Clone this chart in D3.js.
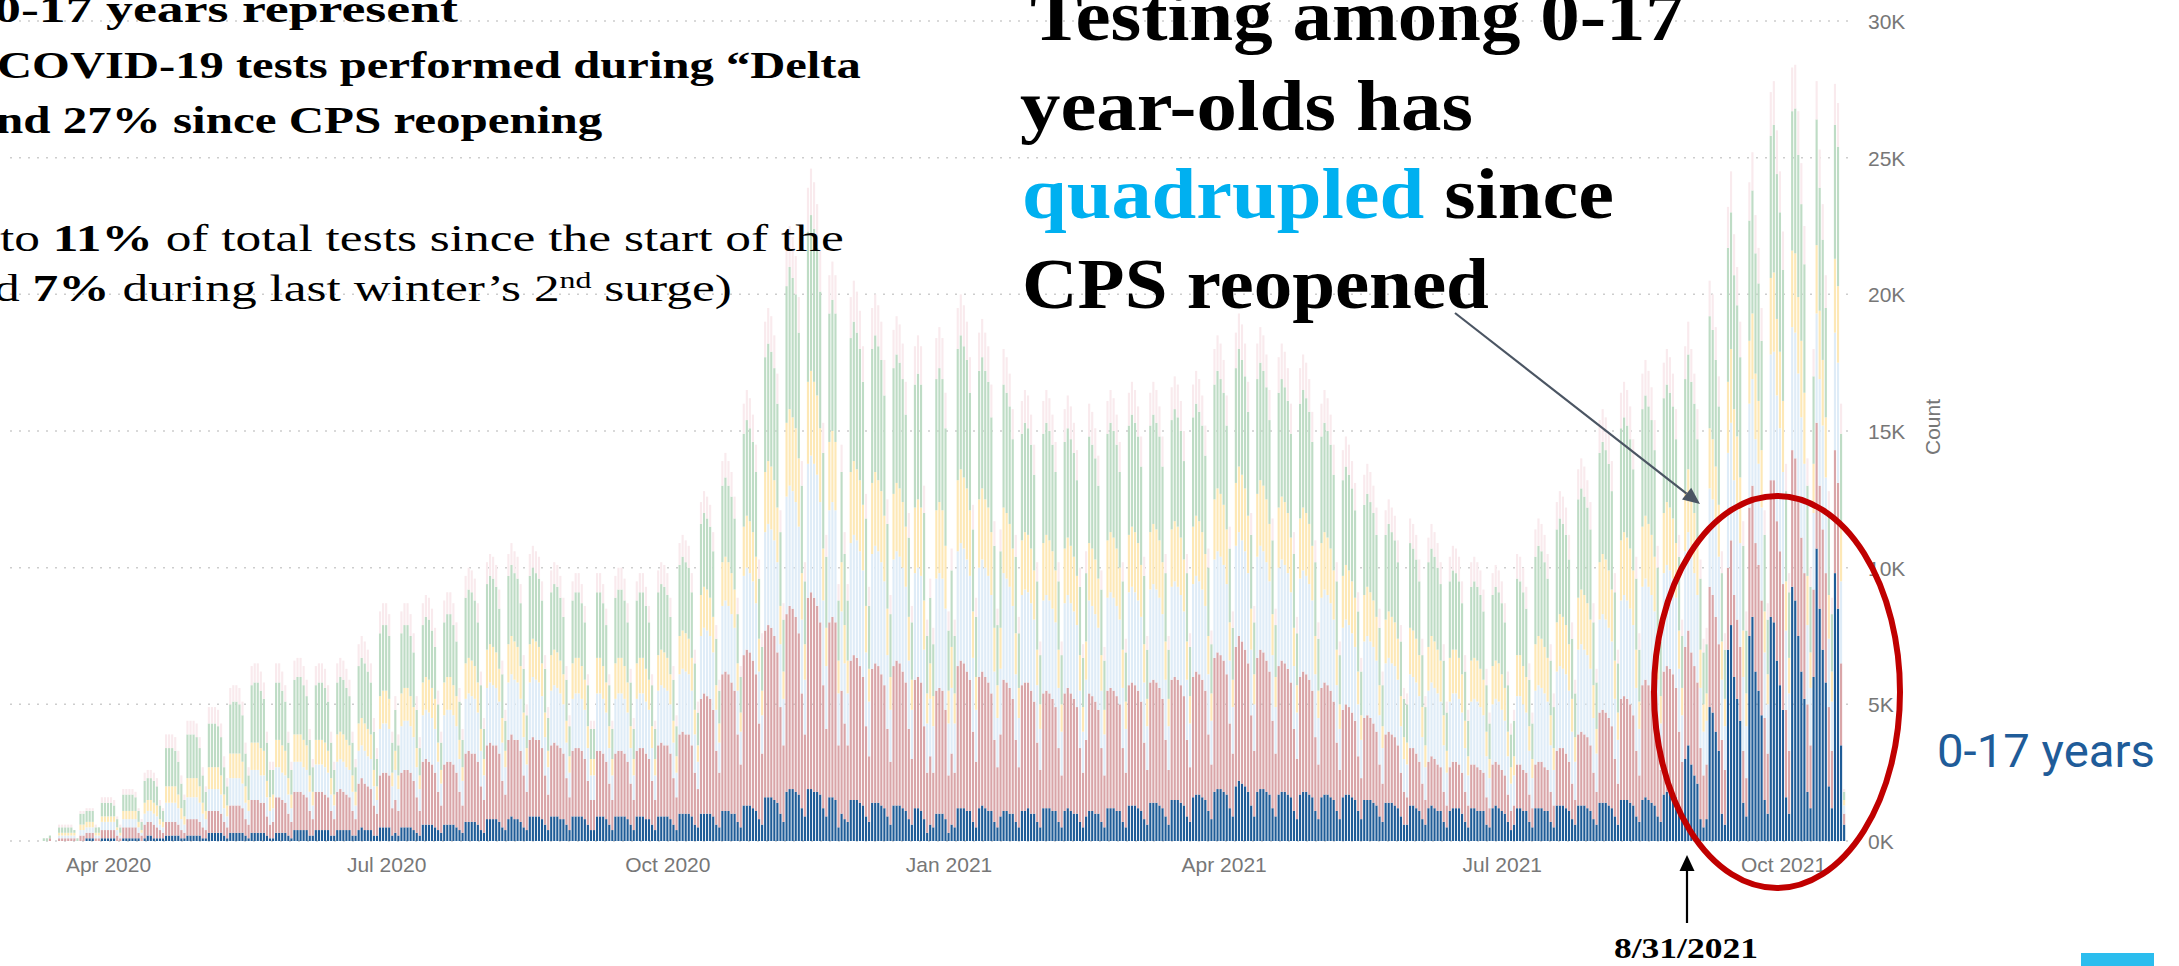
<!DOCTYPE html>
<html><head><meta charset="utf-8">
<script src="https://cdn.jsdelivr.net/npm/d3@7"></script>
<style>
html,body{margin:0;padding:0;background:#fff;overflow:hidden}
svg{display:block}
</style></head><body>
<svg id="chart" width="2179" height="966"></svg>
<script>
// ---------- DATA (daily test counts, in hundreds; first day = Mon 2020-03-09) ----------
const startDay = "2020-03-09";
const unit = 100;
const seriesKeys = ["0-17", "18-29", "30-39", "40-49", "50-59", "60+"];
const yTickValues = [0, 5000, 10000, 15000, 20000, 25000, 30000];
const xTickDates = ["2020-04-01", "2020-07-01", "2020-10-01", "2021-01-01", "2021-04-01", "2021-07-01", "2021-10-01"];
const xTickLabels = ["Apr 2020", "Jul 2020", "Oct 2020", "Jan 2021", "Apr 2021", "Jul 2021", "Oct 2021"];

const s0_17 = [
0,0,0,0,0,0,0, 0,0,0,0,0,0,0, 0,0,1,1,1,0,0, 1,1,1,1,1,0,0,
1,1,1,1,1,1,0, 1,2,2,1,1,1,1, 2,2,2,2,2,1,1, 2,2,2,2,2,1,1,
3,3,3,3,3,2,1, 3,3,3,3,3,2,1, 3,3,3,3,3,2,1, 1,3,3,3,3,2,1,
4,4,4,4,4,2,2, 4,4,4,4,4,2,2, 4,4,4,4,4,2,2, 4,5,4,4,4,2,2,
5,5,5,5,2,3,2, 5,5,5,5,4,3,2, 6,6,6,6,5,4,3, 6,6,6,6,5,4,3,
7,7,7,7,6,4,3, 8,8,8,8,7,5,4, 8,9,8,8,7,5,4, 9,9,9,9,8,6,4,
9,9,9,8,8,6,4, 9,9,9,9,8,6,4, 4,9,9,9,8,6,4, 9,9,9,9,8,6,4,
9,9,9,8,8,6,4, 9,9,9,9,8,6,4, 10,10,10,10,9,6,5, 10,10,10,10,9,6,5,
11,11,11,10,10,7,5, 13,13,13,12,11,8,6, 16,16,16,15,14,10,7, 18,19,19,18,17,12,9,
19,19,18,18,17,12,9, 16,16,15,5,10,8,7, 15,15,15,14,13,9,7, 14,14,14,13,12,9,6,
13,13,13,12,11,8,6, 12,12,11,8,3,6,5, 10,10,10,8,3,6,5, 12,12,12,11,11,7,5,
12,13,12,11,11,7,5, 9,11,11,10,10,7,5, 11,11,12,10,10,7,5, 12,12,12,11,11,7,5,
11,12,11,10,10,7,5, 9,11,11,10,10,7,5, 12,12,12,11,11,7,5, 13,13,13,12,11,8,6,
14,14,14,13,12,9,6, 15,15,15,14,13,9,7, 16,17,17,16,15,11,8, 18,19,19,18,17,12,9,
20,22,21,20,18,13,9, 18,19,19,18,17,12,9, 17,18,18,17,16,11,8, 17,18,18,17,16,11,8,
16,17,17,16,15,11,8, 16,17,17,16,15,11,8, 15,15,15,14,13,9,7, 14,14,14,13,12,9,6,
6,13,13,12,11,8,6, 12,13,12,11,11,7,5, 11,12,12,12,10,7,5, 12,12,11,11,11,6,5,
12,13,12,11,10,7,4, 6,12,12,11,11,7,5, 12,12,12,11,11,7,5, 13,13,13,12,11,8,6,
13,13,13,12,11,8,6, 14,14,14,13,12,9,6, 15,15,15,14,13,9,7, 15,16,15,14,13,9,7,
17,18,18,17,16,11,8, 30,35,28,24,21,8,5, 8,49,47,40,33,10,6, 70,79,60,52,44,14,9,
75,82,62,55,46,15,10, 82,80,66,57,48,16,10, 93,88,75,62,52,18,12, 60,107,85,70,58,20,12,
98,85,35,6
];

const s18_29 = [
0,0,0,0,1,0,0, 1,1,1,1,1,1,0, 2,2,2,2,2,1,1, 3,3,3,3,3,2,1,
4,4,4,4,4,2,2, 5,5,5,5,4,3,2, 5,5,5,5,4,3,2, 6,6,6,6,5,4,3,
8,8,8,8,7,5,4, 10,10,10,10,9,6,5, 12,12,12,11,11,7,5, 6,13,13,12,11,8,6,
14,14,14,13,12,9,6, 14,14,14,13,12,9,6, 14,15,14,13,12,9,6, 17,18,17,16,15,11,8,
19,20,20,19,10,12,9, 20,21,21,20,18,13,9, 23,24,23,22,20,14,10, 22,23,23,22,20,14,10,
25,26,25,25,23,16,12, 27,28,27,27,25,17,13, 29,30,29,29,26,19,14, 28,29,28,28,26,18,13,
26,27,26,26,24,17,12, 24,25,25,24,22,16,11, 11,24,24,23,21,15,11, 23,24,24,23,21,15,11,
24,25,25,24,22,16,11, 26,27,26,26,24,17,12, 29,30,29,29,26,19,14, 42,44,43,42,39,27,20,
50,51,50,48,45,32,23, 55,57,56,54,50,35,26, 61,63,62,60,55,39,28, 65,67,66,64,59,42,30,
70,72,71,68,63,45,32, 64,66,65,30,45,35,28, 51,53,52,50,47,33,24, 49,51,50,48,45,32,23,
51,53,52,50,47,33,24, 47,48,47,34,22,25,20, 45,46,45,40,21,26,20, 52,54,53,51,48,33,24,
48,49,48,47,43,30,22, 30,48,47,46,42,30,22, 46,47,46,45,41,29,21, 42,43,42,41,38,27,19,
43,44,43,42,39,27,20, 28,43,42,41,38,27,19, 43,44,43,42,39,27,20, 44,45,44,43,40,28,20,
44,45,44,43,40,28,20, 44,45,44,43,40,28,20, 44,45,44,43,40,28,20, 49,50,49,48,44,31,23,
51,53,52,50,47,33,24, 49,51,50,48,45,32,23, 47,48,47,46,42,30,22, 43,44,43,42,39,27,20,
40,41,40,39,36,25,18, 32,33,32,31,29,20,15, 30,31,30,29,27,19,14, 25,26,25,25,23,16,12,
10,21,21,20,18,13,9, 17,18,18,17,16,11,8, 16,17,17,16,15,11,8, 16,16,16,15,14,10,7,
16,16,16,15,14,10,7, 7,16,16,15,14,10,7, 16,17,17,16,15,11,8, 20,21,21,20,18,13,9,
26,27,26,26,24,17,12, 33,34,33,32,30,21,15, 37,38,37,36,33,24,17, 42,43,42,41,38,27,19,
45,46,45,44,40,29,21, 41,42,41,40,37,26,19, 20,44,43,42,39,27,20, 30,31,30,29,27,19,14,
47,48,47,46,42,30,22, 50,52,51,49,46,32,23, 50,52,51,49,46,32,23, 32,46,45,44,40,29,21,
45,46,30,4
];

const s30_39 = [
0,0,0,0,0,0,0, 1,1,1,1,1,1,0, 2,2,2,2,2,1,1, 3,3,3,3,3,2,1,
3,3,3,3,3,2,1, 4,4,4,4,4,2,2, 7,7,7,7,6,4,3, 8,8,8,8,7,5,4,
8,8,8,8,7,5,4, 10,10,10,10,9,6,5, 11,11,11,10,10,7,5, 5,11,11,10,10,7,5,
11,11,11,10,10,7,5, 10,10,10,10,9,6,5, 11,11,11,10,10,7,5, 12,12,12,11,11,7,5,
17,18,18,17,8,11,8, 17,18,18,17,16,11,8, 17,18,18,17,16,11,8, 18,19,19,18,17,12,9,
20,21,21,20,18,13,9, 21,22,22,21,19,14,10, 21,22,22,21,19,14,10, 21,22,22,21,19,14,10,
20,21,21,20,18,13,9, 19,20,20,19,18,12,9, 9,21,21,20,18,13,9, 20,21,21,20,18,13,9,
19,20,20,19,18,12,9, 20,21,21,20,18,13,9, 22,23,23,22,20,14,10, 23,24,24,23,21,15,11,
25,26,25,25,23,16,12, 29,30,29,29,26,19,14, 36,37,36,35,33,23,17, 43,44,43,42,39,27,20,
49,50,49,48,44,31,23, 41,42,41,19,29,22,19, 43,44,43,42,39,27,20, 42,43,42,41,38,27,19,
39,40,39,38,35,25,18, 39,40,39,28,18,21,17, 41,42,41,37,19,24,18, 42,43,42,41,38,27,19,
40,41,40,39,36,25,18, 24,39,38,37,34,24,18, 33,34,33,32,30,21,15, 34,35,34,33,31,22,16,
33,34,33,32,30,21,15, 22,34,33,32,30,21,15, 34,35,34,33,31,22,16, 34,35,34,33,31,22,16,
34,35,34,33,31,22,16, 34,35,34,33,31,22,16, 34,35,34,33,31,22,16, 36,37,36,35,33,23,17,
37,38,37,36,33,24,17, 37,38,37,36,33,24,17, 36,37,36,35,33,23,17, 36,37,36,35,33,23,17,
33,34,33,32,30,21,15, 30,31,30,29,27,19,14, 28,29,28,28,26,18,13, 26,27,26,26,24,17,12,
12,27,26,26,24,17,12, 26,27,26,26,24,17,12, 24,25,25,24,22,16,11, 23,24,24,23,21,15,11,
22,23,23,22,20,14,10, 11,25,25,24,22,16,11, 27,28,27,27,25,17,13, 29,30,29,29,26,19,14,
31,32,31,30,28,20,14, 34,35,34,33,31,22,16, 36,37,36,35,33,23,17, 36,37,36,35,33,23,17,
36,37,36,35,33,23,17, 35,36,35,34,32,22,16, 16,36,35,34,32,22,16, 42,43,42,41,38,27,19,
38,39,38,37,34,24,18, 46,47,46,45,41,29,21, 45,46,45,44,40,29,21, 28,40,39,38,35,25,18,
43,44,30,3
];

const s40_49 = [
0,0,0,0,0,0,0, 1,1,1,1,1,1,0, 2,2,2,2,2,1,1, 2,2,2,2,2,1,1,
3,3,3,3,3,2,1, 4,4,4,4,4,2,2, 6,6,6,6,5,4,3, 7,7,7,7,6,4,3,
8,8,8,8,7,5,4, 9,9,9,9,8,6,4, 10,10,10,10,9,6,5, 5,10,10,10,9,6,5,
10,10,10,10,9,6,5, 9,9,9,9,8,6,4, 10,10,10,10,9,6,5, 10,10,10,10,9,6,5,
12,12,12,11,5,7,5, 12,12,12,11,11,7,5, 12,12,12,11,11,7,5, 12,12,12,11,11,7,5,
13,13,13,12,11,8,6, 14,14,14,13,12,9,6, 14,14,14,13,12,9,6, 14,14,14,13,12,9,6,
13,13,13,12,11,8,6, 13,13,13,12,11,8,6, 6,13,13,12,11,8,6, 13,13,13,12,11,8,6,
13,13,13,12,11,8,6, 13,13,13,12,11,8,6, 14,14,14,13,12,9,6, 15,15,15,14,13,9,7,
16,16,16,15,14,10,7, 18,19,19,18,17,12,9, 22,23,23,22,20,14,10, 27,28,27,27,25,17,13,
30,31,30,29,27,19,14, 25,26,25,12,18,14,12, 26,27,26,26,24,17,12, 26,27,26,26,24,17,12,
24,25,25,24,22,16,11, 24,25,25,18,11,13,11, 25,26,25,23,12,15,11, 26,27,26,26,24,17,12,
25,26,25,25,23,16,12, 15,24,24,23,21,15,11, 20,21,21,20,18,13,9, 21,22,22,21,19,14,10,
20,21,21,20,18,13,9, 14,21,21,20,18,13,9, 21,22,22,21,19,14,10, 21,22,22,21,19,14,10,
21,22,22,21,19,14,10, 21,22,22,21,19,14,10, 21,22,22,21,19,14,10, 22,23,23,22,20,14,10,
23,24,24,23,21,15,11, 23,24,24,23,21,15,11, 22,23,23,22,20,14,10, 22,23,23,22,20,14,10,
20,21,21,20,18,13,9, 19,20,20,19,18,12,9, 17,18,18,17,16,11,8, 16,17,17,16,15,11,8,
8,17,17,16,15,11,8, 16,17,17,16,15,11,8, 16,16,16,15,14,10,7, 15,15,15,14,13,9,7,
14,14,14,13,12,9,6, 7,15,15,14,13,9,7, 17,18,18,17,16,11,8, 18,19,19,18,17,12,9,
19,20,20,19,18,12,9, 21,22,22,21,19,14,10, 22,23,23,22,20,14,10, 22,23,23,22,20,14,10,
22,23,23,22,20,14,10, 22,23,23,22,20,14,10, 10,22,22,21,19,14,10, 26,27,26,26,24,17,12,
23,24,24,23,21,15,11, 28,29,28,28,26,18,13, 28,29,28,28,26,18,13, 18,25,25,24,22,16,11,
27,28,19,2
];

const s50_59 = [
0,0,1,1,1,0,0, 2,2,2,2,2,1,1, 4,4,4,4,4,2,2, 5,5,5,5,4,3,2,
6,6,6,6,5,4,3, 8,8,8,8,7,5,4, 14,14,14,13,12,9,6, 16,16,16,15,14,10,7,
16,16,16,15,14,10,7, 18,19,19,18,17,12,9, 21,22,22,21,19,14,10, 9,21,21,20,18,13,9,
20,21,21,20,18,13,9, 20,21,21,20,18,13,9, 19,20,20,19,18,12,9, 21,22,22,21,19,14,10,
23,24,24,23,11,15,11, 22,23,23,22,20,14,10, 21,22,22,21,19,14,10, 22,23,23,22,20,14,10,
24,25,25,24,22,16,11, 24,25,25,24,22,16,11, 25,26,25,25,23,16,12, 25,26,25,25,23,16,12,
23,24,24,23,21,15,11, 23,24,24,23,21,15,11, 11,24,24,23,21,15,11, 24,25,25,24,22,16,11,
23,24,24,23,21,15,11, 23,24,24,23,21,15,11, 26,27,26,26,24,17,12, 26,27,26,26,24,17,12,
28,29,28,28,26,18,13, 34,35,34,33,31,22,16, 42,43,42,41,38,27,19, 50,52,51,49,46,32,23,
55,57,56,54,50,35,26, 47,48,47,22,33,26,22, 49,51,50,48,45,32,23, 49,50,49,48,44,31,23,
46,47,46,45,41,29,21, 45,46,45,32,21,24,19, 48,49,48,43,22,28,21, 48,49,48,47,43,30,22,
47,48,47,46,42,30,22, 28,45,44,43,40,28,20, 39,40,39,38,35,25,18, 40,41,40,39,36,25,18,
39,40,39,38,35,25,18, 25,39,38,37,34,24,18, 39,40,39,38,35,25,18, 40,41,40,39,36,25,18,
39,40,39,38,35,25,18, 40,41,40,39,36,25,18, 40,41,40,39,36,25,18, 42,43,42,41,38,27,19,
42,43,42,41,38,27,19, 42,43,42,41,38,27,19, 42,43,42,41,38,27,19, 42,43,42,41,38,27,19,
39,40,39,38,35,25,18, 35,36,35,34,32,22,16, 33,34,33,32,30,21,15, 31,32,31,30,28,20,14,
14,31,30,29,27,19,14, 31,32,31,30,28,20,14, 28,29,28,28,26,18,13, 27,28,27,27,25,17,13,
26,27,26,26,24,17,12, 13,28,27,27,25,17,13, 32,33,32,31,29,20,15, 34,35,34,33,31,22,16,
36,37,36,35,33,23,17, 40,41,40,39,36,25,18, 41,42,41,40,37,26,19, 43,44,43,42,39,27,20,
42,43,42,41,38,27,19, 41,42,41,40,37,26,19, 18,41,40,39,36,25,18, 49,50,49,48,44,31,23,
44,45,44,43,40,28,20, 52,54,53,51,48,33,24, 51,53,52,50,47,33,24, 32,46,45,44,40,29,21,
49,51,35,3
];

const s60plus = [
0,0,0,0,0,0,0, 1,1,1,1,1,0,0, 1,1,1,1,1,1,0, 2,2,2,2,2,1,1,
2,2,2,2,2,1,1, 3,3,3,3,3,2,1, 5,5,5,5,4,3,2, 5,5,5,5,4,3,2,
6,6,6,6,5,4,3, 6,6,6,6,5,4,3, 7,7,7,7,6,4,3, 3,7,7,7,6,4,3,
7,7,7,7,6,4,3, 7,7,7,7,6,4,3, 7,7,7,7,6,4,3, 8,8,8,8,7,5,4,
8,8,8,8,4,5,4, 8,8,8,8,7,5,4, 8,8,8,8,7,5,4, 8,8,8,8,7,5,4,
8,8,8,8,7,5,4, 8,8,8,8,7,5,4, 8,8,8,8,7,5,4, 8,8,8,8,7,5,4,
8,8,8,8,7,5,4, 7,7,7,7,6,4,3, 3,7,7,7,6,4,3, 8,8,8,8,7,5,4,
7,7,7,7,6,4,3, 8,8,8,8,7,5,4, 8,8,8,8,7,5,4, 8,8,8,8,7,5,4,
9,9,9,9,8,6,4, 11,11,11,10,10,7,5, 13,13,13,12,11,8,6, 15,15,15,14,13,9,7,
16,17,17,16,15,11,8, 14,14,14,6,10,8,6, 15,15,15,14,13,9,7, 15,15,15,14,13,9,7,
14,14,14,13,12,9,6, 14,14,14,10,6,7,6, 15,15,15,13,7,8,6, 15,15,15,14,13,9,7,
14,14,14,13,12,9,6, 8,13,13,12,11,8,6, 12,12,12,11,11,7,5, 12,12,12,11,11,7,5,
12,12,12,11,11,7,5, 8,12,12,11,11,7,5, 12,12,12,11,11,7,5, 12,12,12,11,11,7,5,
12,12,12,11,11,7,5, 12,12,12,11,11,7,5, 12,12,12,11,11,7,5, 13,13,13,12,11,8,6,
13,13,13,12,11,8,6, 13,13,13,12,11,8,6, 13,13,13,12,11,8,6, 13,13,13,12,11,8,6,
12,12,12,11,11,7,5, 11,11,11,10,10,7,5, 11,11,11,10,10,7,5, 9,9,9,9,8,6,4,
4,9,9,9,8,6,4, 9,9,9,9,8,6,4, 9,9,9,9,8,6,4, 9,9,9,9,8,6,4,
8,8,8,8,7,5,4, 4,9,9,9,8,6,4, 10,10,10,10,9,6,5, 10,10,10,10,9,6,5,
11,11,11,10,10,7,5, 12,12,12,11,11,7,5, 13,13,13,12,11,8,6, 13,13,13,12,11,8,6,
13,13,13,12,11,8,6, 12,12,12,11,11,7,5, 6,13,13,12,11,8,6, 15,15,15,14,13,9,7,
14,14,14,13,12,9,6, 16,16,16,15,14,10,7, 16,16,16,15,14,10,7, 10,14,14,13,12,9,6,
15,16,11,1
];

const seriesValues = [s0_17, s18_29, s30_39, s40_49, s50_59, s60plus];
const seriesColors = ["#1F5C97", "#D9A5A8", "#DFECF7", "#FDE8B6", "#BEDCC5", "#F9EAED"];

// ---------- CHART ----------
const svg = d3.select("#chart");
const n = d3.min(seriesValues, a => a.length);
const day0 = d3.utcParse("%Y-%m-%d")(startDay);
const rows = d3.range(n).map(i => {
  const r = { date: d3.utcDay.offset(day0, i) };
  seriesKeys.forEach((k, j) => { r[k] = seriesValues[j][i] * unit; });
  return r;
});

const x = d3.scaleUtc()
  .domain([Date.UTC(2020, 3, 1), Date.UTC(2021, 9, 1)])
  .range([108, 1783]);
const y = d3.scaleLinear().domain([0, 30000]).range([841, 21]);
const dayW = x(Date.UTC(2020, 3, 2)) - x(Date.UTC(2020, 3, 1));
const bw = dayW * 0.7;

// gridlines
svg.append("g").selectAll("line").data(yTickValues).join("line")
  .attr("x1", 10).attr("x2", 1852)
  .attr("y1", d => y(d)).attr("y2", d => y(d))
  .attr("stroke", "#cdcdcd").attr("stroke-width", 1.5)
  .attr("stroke-dasharray", "2,7");

// stacked bars
const stacked = d3.stack().keys(seriesKeys)(rows);
svg.append("g").selectAll("g").data(stacked).join("g")
  .attr("fill", (d, i) => seriesColors[i])
  .selectAll("rect").data(d => d).join("rect")
  .attr("x", d => x(d.data.date) - bw / 2)
  .attr("width", bw)
  .attr("y", d => y(d[1]))
  .attr("height", d => Math.max(0, y(d[0]) - y(d[1])));

// y axis (right)
const yAxis = svg.append("g").attr("transform", "translate(1868,0)")
  .call(d3.axisRight(y).tickValues(yTickValues).tickFormat(d => (d / 1000) + "K").tickSize(0).tickPadding(0));
yAxis.select(".domain").remove();
yAxis.selectAll("text").attr("font-family", "Liberation Sans, Arial, sans-serif")
  .attr("font-size", 21).attr("fill", "#777").attr("dy", "0.35em");

// x axis
const xAxis = svg.append("g").attr("transform", "translate(0,872)")
  .call(d3.axisBottom(x).tickValues(xTickDates.map(s => d3.utcParse("%Y-%m-%d")(s)))
    .tickFormat((d, i) => xTickLabels[i]).tickSize(0).tickPadding(0));
xAxis.select(".domain").remove();
xAxis.selectAll("text").attr("dy", null).attr("y", 0)
  .attr("font-family", "Liberation Sans, Arial, sans-serif")
  .attr("font-size", 21).attr("fill", "#777");

// axis title
svg.append("text").text("Count")
  .attr("transform", "translate(1940,427) rotate(-90)")
  .attr("text-anchor", "middle")
  .attr("font-family", "Liberation Sans, Arial, sans-serif")
  .attr("font-size", 21).attr("fill", "#777");

// ---------- ANNOTATIONS ----------
function fit(sel, x0, x1) {
  const bb = sel.node().getBBox();
  const s = (x1 - x0) / bb.width;
  sel.attr("transform", `translate(${x0 - bb.x * s},0) scale(${s},1)`);
}
function arrow(x0, y0, x1, y1, color, w, hl, hw) {
  const dx = x1 - x0, dy = y1 - y0, L = Math.hypot(dx, dy);
  const ux = dx / L, uy = dy / L, nx = -uy, ny = ux;
  const bx = x1 - ux * hl, by = y1 - uy * hl;
  svg.append("line").attr("x1", x0).attr("y1", y0).attr("x2", bx).attr("y2", by)
    .attr("stroke", color).attr("stroke-width", w);
  svg.append("path")
    .attr("d", `M${x1},${y1}L${bx + nx * hw},${by + ny * hw}L${bx - nx * hw},${by - ny * hw}Z`)
    .attr("fill", color);
}
const serif = "Liberation Serif, Times New Roman, serif";

// red ellipse
svg.append("ellipse").attr("cx", 1777).attr("cy", 692).attr("rx", 123).attr("ry", 196)
  .attr("fill", "none").attr("stroke", "#C00000").attr("stroke-width", 6);

// top-left paragraph
const tl = [
  { parts: [{ t: "0-17 years represent", b: 1 }], y: 22, x0: -6, x1: 459 },
  { parts: [{ t: "COVID-19 tests performed during \u201CDelta", b: 1 }], y: 78, x0: -3, x1: 861 },
  { parts: [{ t: "nd 27% since CPS reopening", b: 1 }], y: 133, x0: -4, x1: 603 },
  { parts: [{ t: "to ", b: 0 }, { t: "11%", b: 1 }, { t: " of total tests since the start of the", b: 0 }], y: 251, x0: 0, x1: 844 },
];
tl.forEach(l => {
  const t = svg.append("text").attr("x", 0).attr("y", l.y)
    .attr("font-family", serif).attr("font-size", 37).attr("fill", "#000");
  l.parts.forEach(p => t.append("tspan").text(p.t).attr("font-weight", p.b ? "bold" : "normal"));
  fit(t, l.x0, l.x1);
});
{
  const t = svg.append("text").attr("x", 0).attr("y", 301)
    .attr("font-family", serif).attr("font-size", 37).attr("fill", "#000");
  t.append("tspan").text("d ");
  t.append("tspan").text("7%").attr("font-weight", "bold");
  t.append("tspan").text(" during last winter\u2019s 2");
  t.append("tspan").text("nd").attr("font-size", 23).attr("dy", -13);
  t.append("tspan").text(" surge)").attr("dy", 13);
  fit(t, -6, 732);
}

// big title
const title = [
  { parts: [{ t: "Testing among 0-17" }], y: 40, x0: 1030, x1: 1685 },
  { parts: [{ t: "year-olds has" }], y: 130, x0: 1020, x1: 1473 },
  { parts: [{ t: "quadrupled", c: "#00B0F0" }, { t: " since" }], y: 218, x0: 1022, x1: 1614 },
  { parts: [{ t: "CPS reopened" }], y: 308, x0: 1022, x1: 1489 },
];
title.forEach(l => {
  const t = svg.append("text").attr("x", 0).attr("y", l.y)
    .attr("font-family", serif).attr("font-size", 72).attr("font-weight", "bold").attr("fill", "#000");
  l.parts.forEach(p => t.append("tspan").text(p.t).attr("fill", p.c || "#000"));
  fit(t, l.x0, l.x1);
});

// arrows
arrow(1455, 313, 1700, 504, "#4B5563", 2.2, 17, 7.5);
arrow(1687, 923, 1687, 855, "#000", 2.2, 16, 7.5);

// 8/31/2021 label
{
  const t = svg.append("text").attr("x", 0).attr("y", 958).text("8/31/2021")
    .attr("font-family", serif).attr("font-size", 29).attr("font-weight", "bold").attr("fill", "#000");
  fit(t, 1614, 1758);
}

// 0-17 years label
{
  const t = svg.append("text").attr("x", 0).attr("y", 767).text("0-17 years")
    .attr("font-family", "Roboto, sans-serif").attr("font-size", 47).attr("fill", "#1F5C99");
  fit(t, 1937, 2155);
}

// cyan corner block
svg.append("rect").attr("x", 2081).attr("y", 953).attr("width", 73).attr("height", 13).attr("fill", "#2BBDEE");
</script>
</body></html>
